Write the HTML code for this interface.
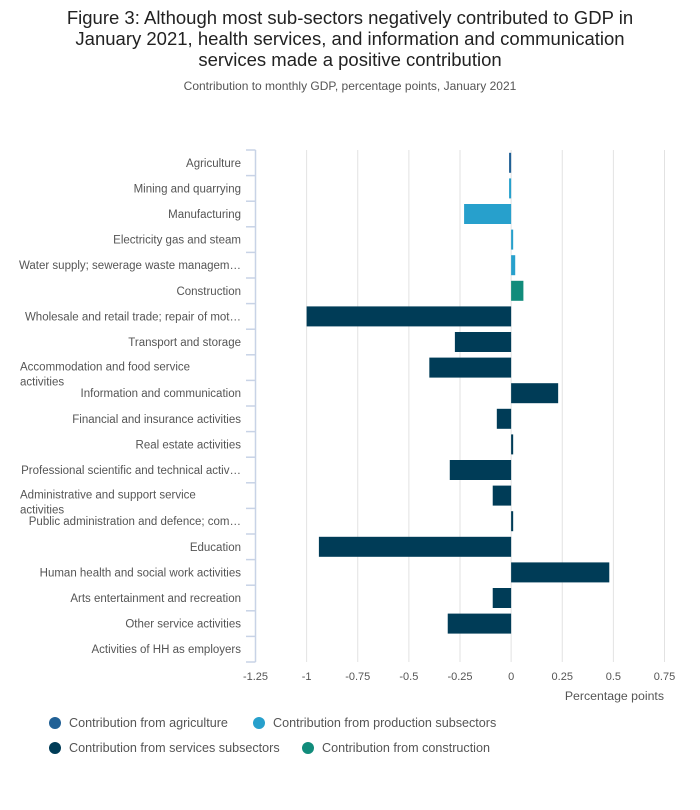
<!DOCTYPE html>
<html><head><meta charset="utf-8"><style>
body{margin:0;background:#fff;font-family:"Liberation Sans",sans-serif;}
#wrap{position:relative;width:700px;height:810px;overflow:hidden}
h1{position:absolute;top:7px;left:0;width:700px;margin:0;text-align:center;font-weight:normal;font-size:18.5px;line-height:21px;color:#222;white-space:nowrap}
.sub{position:absolute;top:79px;left:0;width:700px;text-align:center;font-size:12px;color:#555}
</style></head><body>
<div id="wrap">
<h1>Figure 3: Although most sub-sectors negatively contributed to GDP in<br>January 2021, health services, and information and communication<br>services made a positive contribution</h1>
<div class="sub">Contribution to monthly GDP, percentage points, January 2021</div>
<svg id="svg" width="700" height="810" style="position:absolute;left:0;top:0"></svg>
</div>
<script>
const categories=["Agriculture","Mining and quarrying","Manufacturing","Electricity gas and steam","Water supply; sewerage waste managem…","Construction","Wholesale and retail trade; repair of mot…","Transport and storage","Accommodation and food service|activities","Information and communication","Financial and insurance activities","Real estate activities","Professional scientific and technical activ…","Administrative and support service|activities","Public administration and defence; com…","Education","Human health and social work activities","Arts entertainment and recreation","Other service activities","Activities of HH as employers"];
const values=[-0.01,-0.01,-0.23,0.01,0.02,0.06,-1.0,-0.275,-0.40,0.23,-0.07,0.01,-0.30,-0.09,0.01,-0.94,0.48,-0.09,-0.31,0];
const groups=["agri","prod","prod","prod","prod","cons","serv","serv","serv","serv","serv","serv","serv","serv","serv","serv","serv","serv","serv","serv"];
const ticks=[-1.25,-1,-0.75,-0.5,-0.25,0,0.25,0.5,0.75];
const tickLabels=["-1.25","-1","-0.75","-0.5","-0.25","0","0.25","0.5","0.75"];
const legendNames=["Contribution from agriculture","Contribution from production subsectors","Contribution from services subsectors","Contribution from construction"];
const colors={agri:"#206095",prod:"#27a0cc",serv:"#003c57",cons:"#118c7b"};
const NS="http://www.w3.org/2000/svg",svg=document.getElementById('svg');
const x0=255.5,x1=664.5,y0=150,band=25.6;
const xs=v=>x0+(v-(-1.25))/(2)*(x1-x0);
const ys=i=>y0+i*band;
function mk(t,a,p){const e=document.createElementNS(NS,t);for(const k in a)e.setAttribute(k,a[k]);(p||svg).appendChild(e);return e;}
ticks.forEach((t,i)=>{
 if(i>0){const g=mk('line',{x1:xs(t),x2:xs(t),y1:y0,y2:y0+band*categories.length,stroke:'#e2e2e2','stroke-width':1});
 
 }
 const tx=mk('text',{x:xs(t),y:680,'text-anchor':'middle','font-size':11,fill:'#555'});tx.textContent=tickLabels[i];
 
 
});
const ax=mk('line',{x1:x0,x2:x0,y1:y0,y2:y0+band*categories.length,stroke:'#c8d3e6','stroke-width':1.5});


for(let i=0;i<=categories.length;i++){const tk=mk('line',{x1:246,x2:x0,y1:ys(i),y2:ys(i),stroke:'#c8d3e6','stroke-width':1.5});
 
 }
categories.forEach((c,i)=>{
 const cy=ys(i)+band/2,v=values[i];
 const parts=c.split('|');
 let t;
 if(parts.length>1){t=mk('text',{x:20,y:cy+3,'font-size':11.5,fill:'#555'});
  parts.forEach((p,j)=>{const s=mk('tspan',{x:20,dy:j?15:0},t);s.textContent=p;});}
 else{t=mk('text',{x:241,y:cy+4,'text-anchor':'end','font-size':11.5,fill:'#555'});t.textContent=c;}
 
 
 const a=xs(Math.min(0,v)),b=xs(Math.max(0,v));
 const r=mk('rect',{x:a,y:cy-10,width:Math.max(b-a,0),height:20,fill:colors[groups[i]]});
 
 
});
const xt=mk('text',{x:664,y:700,'text-anchor':'end','font-size':12.3,fill:'#555'});xt.textContent="Percentage points";


const lpos=[[55,724,"agri"],[259,724,"prod"],[55,749,"serv"],[308,749,"cons"]];
legendNames.forEach((n,i)=>{const [lx,ly,g]=lpos[i];
 const c=mk('circle',{cx:lx,cy:ly-1,r:6,fill:colors[g]});
 
 
 const t=mk('text',{x:lx+14,y:ly+3,'font-size':12.6,fill:'#555'});t.textContent=n;
 
 
});
</script>
</body></html>
